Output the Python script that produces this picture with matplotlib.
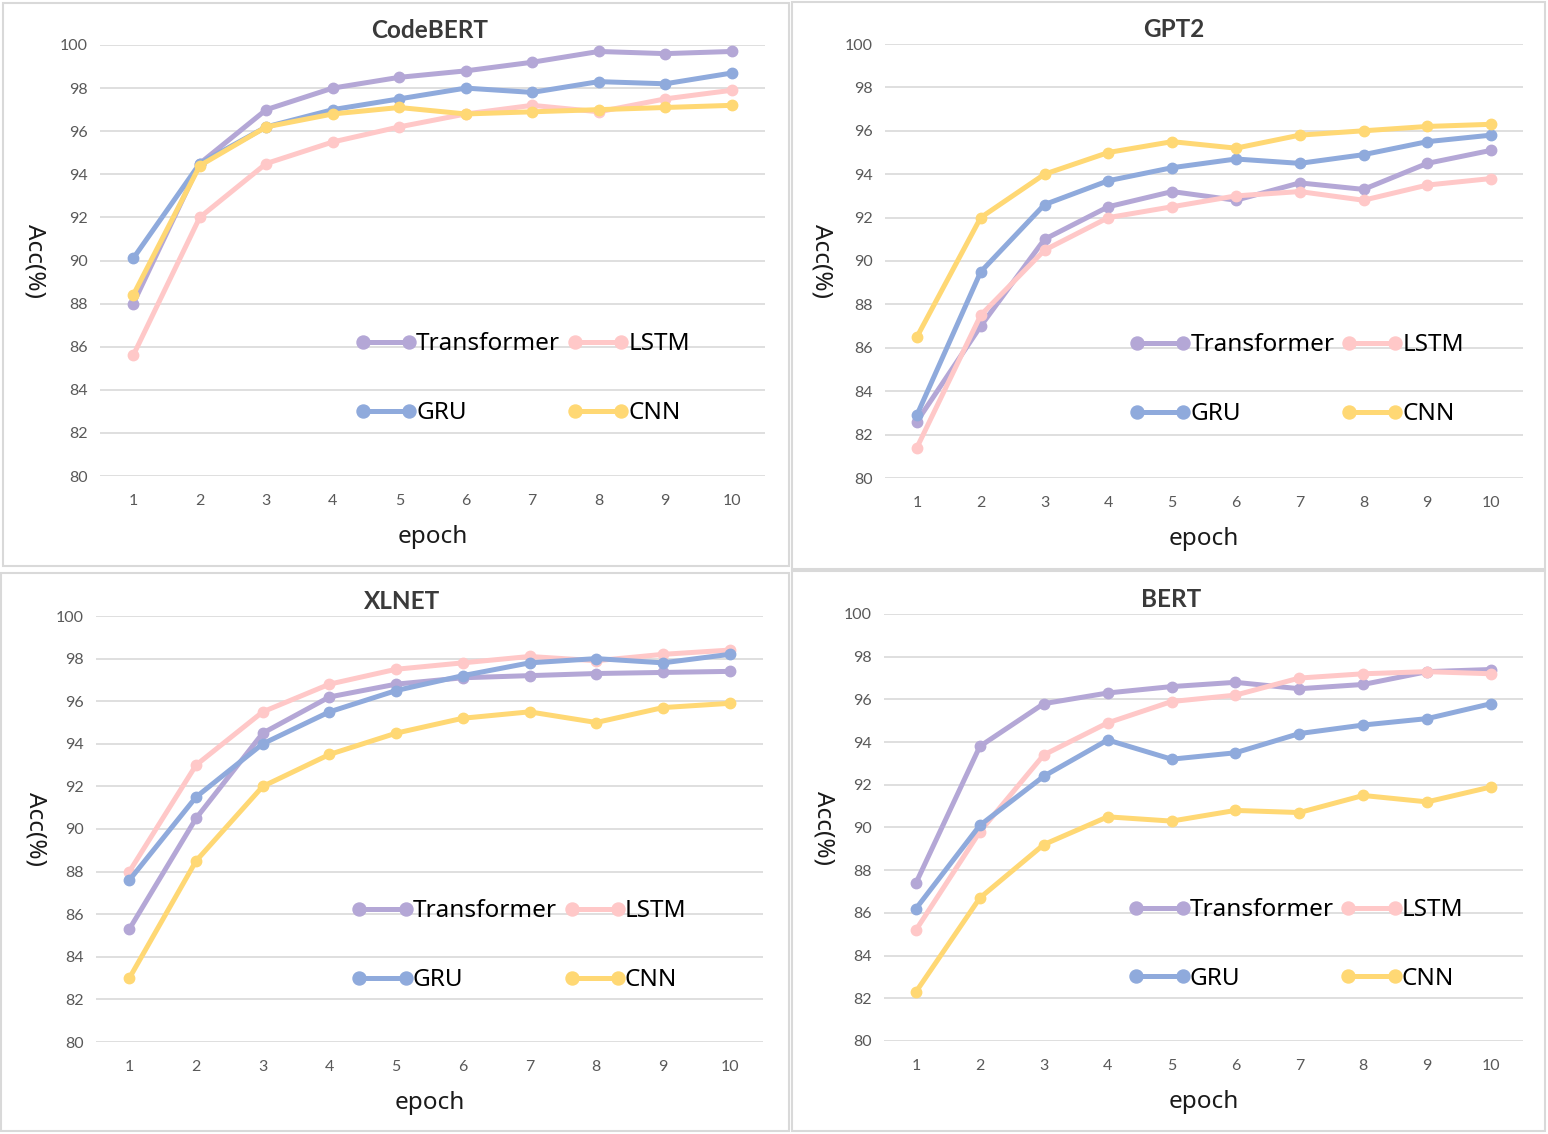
import matplotlib
matplotlib.use("Agg")
import matplotlib.pyplot as plt
from matplotlib.patches import Rectangle
from matplotlib.legend_handler import HandlerLine2D

epochs = [1, 2, 3, 4, 5, 6, 7, 8, 9, 10]
series_names = ["Transformer", "LSTM", "GRU", "CNN"]
colors = {"Transformer": "#b4a7d6", "LSTM": "#ffc8c8", "GRU": "#8faadc", "CNN": "#ffd874"}

# CodeBERT
codebert_transformer = [88.0, 94.5, 97.0, 98.0, 98.5, 98.8, 99.2, 99.7, 99.6, 99.7]
codebert_lstm = [85.6, 92.0, 94.5, 95.5, 96.2, 96.8, 97.2, 96.9, 97.5, 97.9]
codebert_gru = [90.1, 94.5, 96.2, 97.0, 97.5, 98.0, 97.8, 98.3, 98.2, 98.7]
codebert_cnn = [88.4, 94.4, 96.2, 96.8, 97.1, 96.8, 96.9, 97.0, 97.1, 97.2]

# GPT2
gpt2_transformer = [82.6, 87.0, 91.0, 92.5, 93.2, 92.8, 93.6, 93.3, 94.5, 95.1]
gpt2_lstm = [81.4, 87.5, 90.5, 92.0, 92.5, 93.0, 93.2, 92.8, 93.5, 93.8]
gpt2_gru = [82.9, 89.5, 92.6, 93.7, 94.3, 94.7, 94.5, 94.9, 95.5, 95.8]
gpt2_cnn = [86.5, 92.0, 94.0, 95.0, 95.5, 95.2, 95.8, 96.0, 96.2, 96.3]

# XLNET
xlnet_transformer = [85.3, 90.5, 94.5, 96.2, 96.8, 97.1, 97.2, 97.3, 97.35, 97.4]
xlnet_lstm = [88.0, 93.0, 95.5, 96.8, 97.5, 97.8, 98.1, 97.9, 98.2, 98.4]
xlnet_gru = [87.6, 91.5, 94.0, 95.5, 96.5, 97.2, 97.8, 98.0, 97.8, 98.2]
xlnet_cnn = [83.0, 88.5, 92.0, 93.5, 94.5, 95.2, 95.5, 95.0, 95.7, 95.9]

# BERT
bert_transformer = [87.4, 93.8, 95.8, 96.3, 96.6, 96.8, 96.5, 96.7, 97.3, 97.4]
bert_lstm = [85.2, 89.8, 93.4, 94.9, 95.9, 96.2, 97.0, 97.2, 97.3, 97.2]
bert_gru = [86.2, 90.1, 92.4, 94.1, 93.2, 93.5, 94.4, 94.8, 95.1, 95.8]
bert_cnn = [82.3, 86.7, 89.2, 90.5, 90.3, 90.8, 90.7, 91.5, 91.2, 91.9]

panels = [
    ("CodeBERT", [codebert_transformer, codebert_lstm, codebert_gru, codebert_cnn]),
    ("GPT2", [gpt2_transformer, gpt2_lstm, gpt2_gru, gpt2_cnn]),
    ("XLNET", [xlnet_transformer, xlnet_lstm, xlnet_gru, xlnet_cnn]),
    ("BERT", [bert_transformer, bert_lstm, bert_gru, bert_cnn]),
]

W, H = 1548, 1134
# pixel boxes: axes (left, top, right, bottom), panel frame (left, top, right, bottom)
ax_px = [(100, 45, 765, 476), (885, 44, 1523, 478), (96, 616, 763, 1042), (884, 614, 1523, 1041)]
frame_px = [(3, 3, 789, 566), (792, 2, 1545, 569), (1, 573, 789, 1131), (792, 571, 1545, 1131)]
title_x_px = [430, 1174, 402, 1171]
ylabel_x_px = [35, 822, 35, 823]

fig = plt.figure(figsize=(W / 100, H / 100), dpi=100)

for (fl, ft, fr, fb) in frame_px:
    fig.patches.append(Rectangle((fl / W, 1 - fb / H), (fr - fl) / W, (fb - ft) / H,
                                 transform=fig.transFigure, fill=False,
                                 edgecolor="#d9d9d9", linewidth=1.5))

for (title, vals), (l, t, r, b), tx, lx in zip(panels, ax_px, title_x_px, ylabel_x_px):
    ax = fig.add_axes([l / W, 1 - b / H, (r - l) / W, (b - t) / H])
    lines = {}
    for name, v in zip(series_names, vals):
        ln, = ax.plot(epochs, v, color=colors[name], linewidth=3.6, marker="o",
                      markersize=7.5, solid_capstyle="round", label=name)
        lines[name] = ln
    ax.set_xlim(0.5, 10.5)
    ax.set_ylim(80, 100)
    ax.set_yticks(range(80, 101, 2))
    ax.set_xticks(epochs)
    ax.grid(axis="y", color="#d9d9d9", linewidth=1.2)
    ax.set_axisbelow(True)
    for s in ax.spines.values():
        s.set_visible(False)
    ax.tick_params(length=0, labelsize=11.5, colors="#595959", pad=9)
    ax.tick_params(axis="x", pad=13)
    for lab in ax.get_xticklabels() + ax.get_yticklabels():
        lab.set_family("Lato")
    ax.set_title(title, fontsize=17.5, fontweight="bold", color="#3a3a3a",
                 family="Lato", pad=5, x=(tx - l) / (r - l))
    ax.set_xlabel("epoch", fontsize=17.5, family="Noto Sans", color="#1a1a1a", labelpad=12)
    ax.set_ylabel("Acc(%)", fontsize=17.5, family="Noto Sans", color="#1a1a1a",
                  rotation=-90, va="center", ha="center")
    ax.yaxis.set_label_coords((lx - l) / (r - l), 0.5)
    order = ["Transformer", "GRU", "LSTM", "CNN"]
    hmap = {lines[n]: HandlerLine2D(marker_pad=0) for n in order}
    ax.legend([lines[n] for n in order], order, ncol=2, loc="center left",
              bbox_to_anchor=(0.395, 0.226), frameon=False, numpoints=2,
              handler_map=hmap, markerscale=1.25,
              handlelength=1.9, handletextpad=0.3, columnspacing=0.6,
              labelspacing=1.85, borderpad=0, borderaxespad=0,
              prop={"family": "Noto Sans", "size": 17.5})

fig.savefig("out.png", dpi=100)
